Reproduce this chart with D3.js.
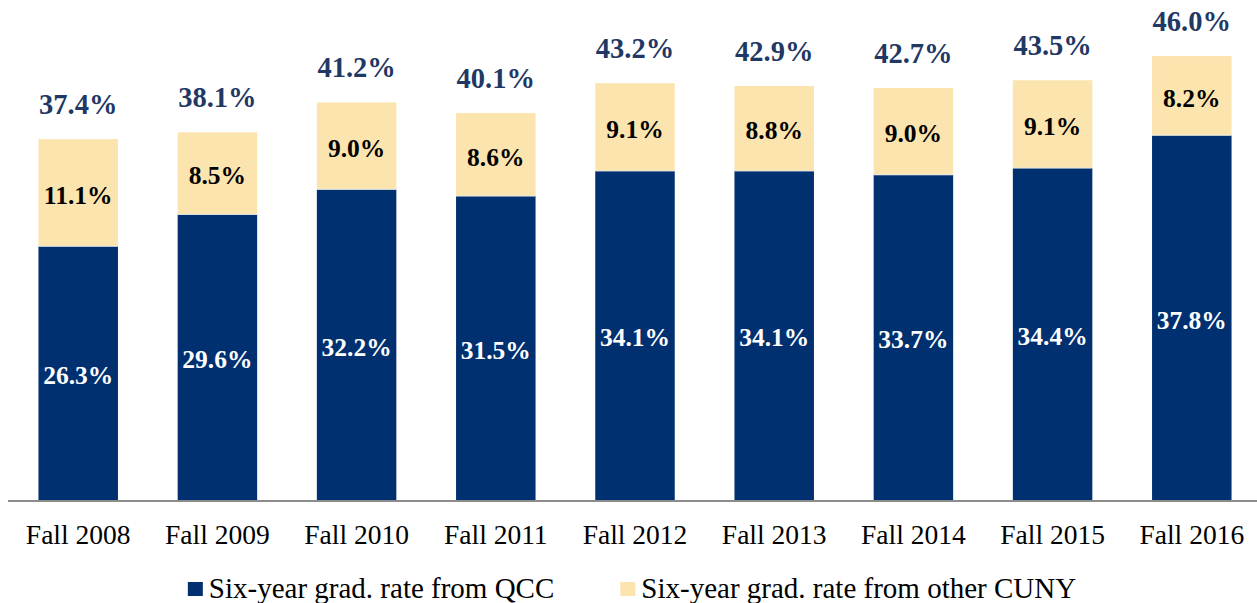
<!DOCTYPE html>
<html>
<head>
<meta charset="utf-8">
<script src="https://cdn.jsdelivr.net/npm/d3@7"></script>
<style>
  html, body { margin: 0; padding: 0; background: #fff; }
  svg { display: block; }
</style>
</head>
<body>
<svg id="chart" width="1257" height="603"></svg>
<script>
const categories = ["Fall 2008","Fall 2009","Fall 2010","Fall 2011","Fall 2012","Fall 2013","Fall 2014","Fall 2015","Fall 2016"];
const qccRate   = [26.3, 29.6, 32.2, 31.5, 34.1, 34.1, 33.7, 34.4, 37.8];
const otherRate = [11.1, 8.5, 9.0, 8.6, 9.1, 8.8, 9.0, 9.1, 8.2];
const totalRate = [37.4, 38.1, 41.2, 40.1, 43.2, 42.9, 42.7, 43.5, 46.0];
const seriesNames = ["Six-year grad. rate from QCC", "Six-year grad. rate from other CUNY"];

const colors = { qcc: "#003070", other: "#FCE4AE", total: "#1F3864", axis: "#8c8c8c" };
const serif = "'Liberation Serif', 'Times New Roman', 'DejaVu Serif', serif";

const svg = d3.select("#chart");
const baseY = 500;

const x = d3.scaleBand()
  .domain(categories)
  .range([8.6, 1261.4])
  .paddingInner(0.429)
  .paddingOuter(0.2145);

const y = d3.scaleLinear()
  .domain([0, 50])
  .range([baseY, baseY - 50 * 9.65]);

const data = categories.map((c, i) => ({ cat: c, qcc: qccRate[i], other: otherRate[i], total: totalRate[i] }));
const stack = d3.stack().keys(["qcc", "other"])(data);

const layer = svg.append("g");
stack.forEach(s => {
  layer.selectAll(null)
    .data(s)
    .join("rect")
    .attr("x", d => x(d.data.cat))
    .attr("width", x.bandwidth())
    .attr("y", d => y(d[1]))
    .attr("height", d => y(d[0]) - y(d[1]))
    .attr("fill", s.key === "qcc" ? colors.qcc : colors.other);
});

// segment separator (thin light line)
layer.selectAll(null)
  .data(data)
  .join("line")
  .attr("x1", d => x(d.cat))
  .attr("x2", d => x(d.cat) + x.bandwidth())
  .attr("y1", d => y(d.qcc))
  .attr("y2", d => y(d.qcc))
  .attr("stroke", "#e8e8e8")
  .attr("stroke-width", 1);

// axis
const axis = svg.append("g")
  .attr("transform", `translate(0,${baseY + 1})`)
  .call(d3.axisBottom(x).tickSize(0).tickPadding(0));
axis.select(".domain")
  .attr("d", "M8,0H1257")
  .attr("stroke", colors.axis)
  .attr("stroke-width", 2);
axis.selectAll(".tick text")
  .attr("y", 43)
  .attr("dy", null)
  .attr("fill", "#000")
  .style("font-family", serif)
  .style("font-size", "27.5px");

// segment labels
const labels = svg.append("g")
  .style("font-family", serif)
  .style("font-weight", "bold")
  .style("font-size", "25.5px")
  .attr("text-anchor", "middle");

stack.forEach(s => {
  labels.selectAll(null)
    .data(s)
    .join("text")
    .attr("x", d => x(d.data.cat) + x.bandwidth() / 2)
    .attr("y", d => (y(d[0]) + y(d[1])) / 2 + 11)
    .attr("fill", s.key === "qcc" ? "#ffffff" : "#000000")
    .text(d => d3.format(".1f")(d.data[s.key]) + "%");
});

// total labels
svg.append("g")
  .style("font-family", serif)
  .style("font-weight", "bold")
  .style("font-size", "28.5px")
  .attr("text-anchor", "middle")
  .selectAll("text")
  .data(data)
  .join("text")
  .attr("x", d => x(d.cat) + x.bandwidth() / 2)
  .attr("y", d => y(d.total) - 25)
  .attr("fill", colors.total)
  .text(d => d3.format(".1f")(d.total) + "%");

// legend
const legend = svg.append("g");
const legendColors = [colors.qcc, colors.other];
const items = legend.selectAll("g")
  .data(seriesNames)
  .join("g");
items.append("rect")
  .attr("width", 15).attr("height", 14)
  .attr("y", 582)
  .attr("fill", (d, i) => legendColors[i]);
items.append("text")
  .attr("x", 21)
  .attr("y", 598)
  .style("font-family", serif)
  .style("font-size", "29px")
  .attr("fill", "#000")
  .text(d => d);

const widths = [];
items.each(function () { widths.push(21 + this.querySelector("text").getComputedTextLength()); });
const gap = 66;
const totalW = d3.sum(widths) + gap * (widths.length - 1);
let cx = 632 - totalW / 2;
items.each(function (d, i) {
  d3.select(this).attr("transform", `translate(${cx},0)`);
  cx += widths[i] + gap;
});
</script>
</body>
</html>
